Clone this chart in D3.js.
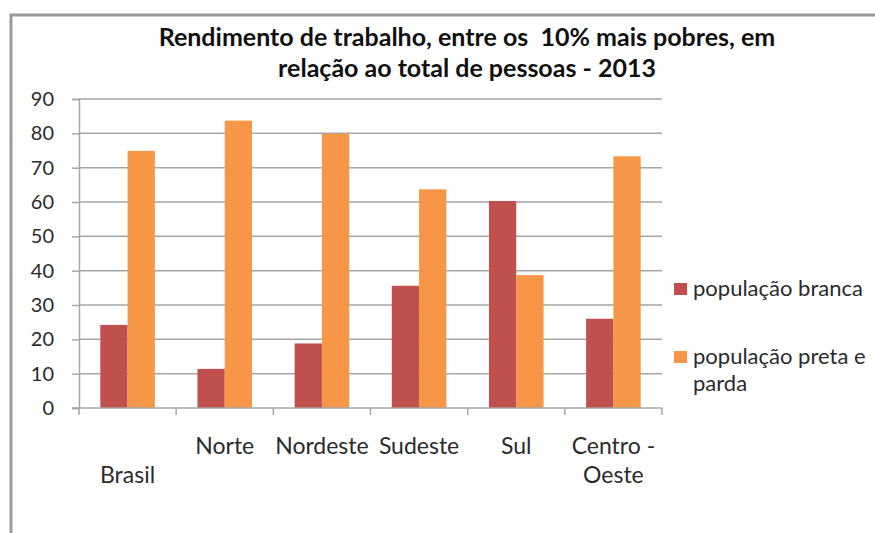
<!DOCTYPE html>
<html>
<head>
<meta charset="utf-8">
<script src="https://cdn.jsdelivr.net/npm/d3@7"></script>
<style>
  body { margin: 0; background: #fff; }
  svg { display: block; font-family: Lato, "Open Sans", sans-serif; }
</style>
</head>
<body>
<div id="svg-container"></div>
<script>
// data
const categories = ["Brasil", "Norte", "Nordeste", "Sudeste", "Sul", "Centro - Oeste"];
// axis label lines (Excel staggered "Brasil" onto the 2nd line)
const categoryLines = [["", "Brasil"], ["Norte"], ["Nordeste"], ["Sudeste"], ["Sul"], ["Centro -", "Oeste"]];
const seriesNames = ["população branca", "população preta e parda"];
const branca = [24.2, 11.4, 18.8, 35.6, 60.3, 26.0];
const pretaParda = [74.9, 83.7, 79.9, 63.7, 38.7, 73.3];
const yTicks = [0, 10, 20, 30, 40, 50, 60, 70, 80, 90];
const colors = ["#C0504D", "#F79646"];

const width = 875, height = 533;
const plot = { left: 79, right: 662, top: 99, bottom: 408 };

const svg = d3.select("#svg-container").append("svg")
  .attr("width", width).attr("height", height);

svg.append("rect").attr("width", width).attr("height", height).attr("fill", "#fff");

// chart frame (left + top edge visible)
svg.append("path")
  .attr("d", `M11,${height} V15 H${width}`)
  .attr("fill", "none")
  .attr("stroke", "#9a9a9a")
  .attr("stroke-width", 3);

// title
const title = svg.append("text")
  .attr("text-anchor", "middle")
  .attr("font-weight", "bold")
  .attr("font-size", 25)
  .attr("fill", "#111");
title.append("tspan").attr("x", 467).attr("y", 46).text("Rendimento de trabalho, entre os  10% mais pobres, em").attr("xml:space", "preserve");
title.append("tspan").attr("x", 467).attr("y", 77).text("relação ao total de pessoas - 2013");

// scales
const x = d3.scaleBand().domain(categories).range([plot.left, plot.right]).padding(0);
const gap = 21.3;
const xSub = d3.scaleBand().domain(seriesNames).range([gap, x.bandwidth() - gap]).padding(0);
const y = d3.scaleLinear().domain([0, 90]).range([plot.bottom, plot.top]);

// gridlines
svg.append("g")
  .selectAll("line")
  .data(yTicks.filter(d => d > 0))
  .join("line")
  .attr("x1", plot.left).attr("x2", plot.right)
  .attr("y1", d => y(d)).attr("y2", d => y(d))
  .attr("stroke", "#a6a6a6")
  .attr("stroke-width", 1.5);

// y axis
const yAxis = svg.append("g")
  .attr("transform", `translate(${plot.left},0)`)
  .call(d3.axisLeft(y).tickValues(yTicks).tickSize(7).tickPadding(18));
yAxis.select(".domain").attr("stroke", "#a6a6a6").attr("stroke-width", 1.5);
yAxis.selectAll(".tick line").attr("stroke", "#a6a6a6").attr("stroke-width", 1.5);
yAxis.selectAll(".tick text")
  .attr("font-size", 20).attr("font-family", "Lato, sans-serif").attr("fill", "#2b2b2b");

// bars
const groups = svg.append("g")
  .selectAll("g")
  .data(categories)
  .join("g")
  .attr("transform", d => `translate(${x(d)},0)`);

groups.selectAll("rect")
  .data((d, i) => [branca[i], pretaParda[i]].map((v, j) => ({ key: seriesNames[j], value: v, j })))
  .join("rect")
  .attr("x", d => xSub(d.key))
  .attr("width", xSub.bandwidth())
  .attr("y", d => y(d.value))
  .attr("height", d => y(0) - y(d.value))
  .attr("fill", d => colors[d.j]);

// x axis
const xAxis = svg.append("g").attr("transform", `translate(0,${plot.bottom})`);
xAxis.append("line")
  .attr("x1", plot.left - 7).attr("x2", plot.right)
  .attr("stroke", "#a6a6a6").attr("stroke-width", 1.5);
xAxis.selectAll(".xtick")
  .data(d3.range(categories.length + 1))
  .join("line")
  .attr("x1", i => plot.left + i * x.step()).attr("x2", i => plot.left + i * x.step())
  .attr("y1", 0).attr("y2", 7)
  .attr("stroke", "#a6a6a6").attr("stroke-width", 1.5);

const xLabels = xAxis.selectAll(".xlabel")
  .data(categories)
  .join("text")
  .attr("text-anchor", "middle")
  .attr("font-size", 23)
  .attr("fill", "#2b2b2b");
xLabels.selectAll("tspan")
  .data((d, i) => categoryLines[i].map((t, k) => ({ t, k, c: d })))
  .join("tspan")
  .attr("x", d => x(d.c) + x.bandwidth() / 2)
  .attr("y", d => 46 + d.k * 29)
  .text(d => d.t);

// legend
const legend = svg.append("g").attr("transform", "translate(674,0)");
const legendRows = [
  { lines: ["população branca"], y: 289 },
  { lines: ["população preta e", "parda"], y: 357 }
];
legendRows.forEach((row, i) => {
  legend.append("rect")
    .attr("x", 0).attr("y", row.y - 6)
    .attr("width", 13).attr("height", 12)
    .attr("fill", colors[i]);
  const t = legend.append("text").attr("font-size", 22).attr("fill", "#2b2b2b");
  row.lines.forEach((l, k) => {
    t.append("tspan").attr("x", 19).attr("y", row.y + 7 + k * 27).text(l);
  });
});
</script>
</body>
</html>
